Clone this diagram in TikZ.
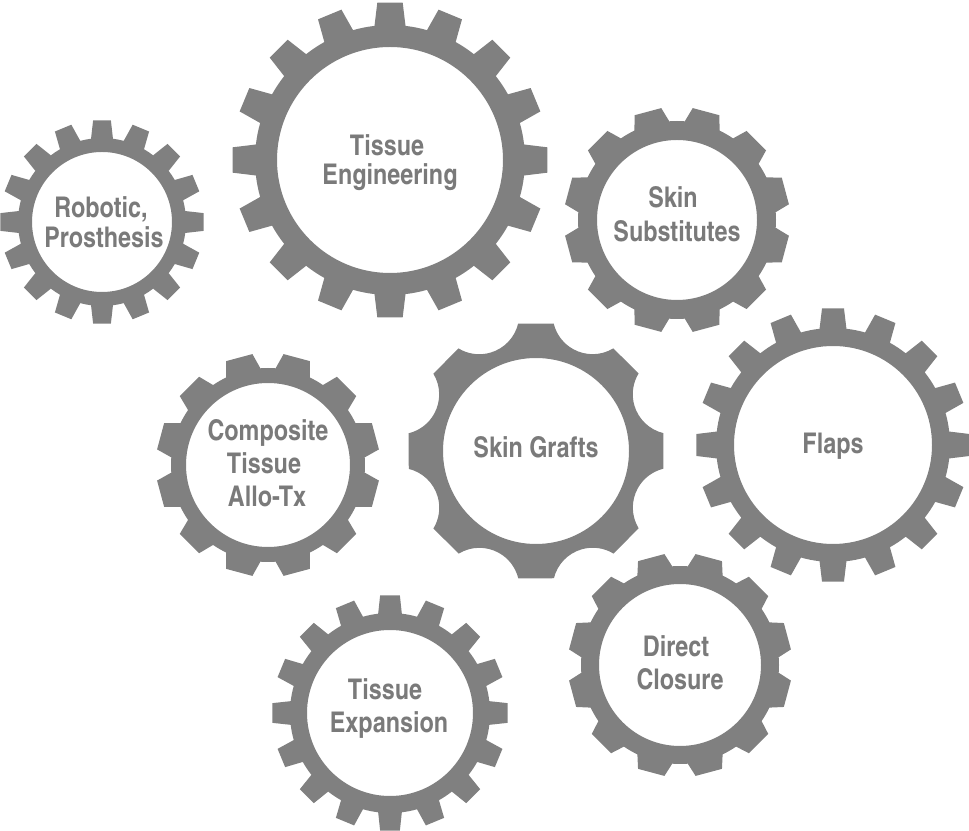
\documentclass[tikz,border=0pt]{standalone}
\usepackage{fontspec}
\newfontfamily\gearfont{texgyreheroscn-bold.otf}
\definecolor{gearcol}{RGB}{128,128,128}
\definecolor{labelcol}{RGB}{122,122,122}
\tikzset{lbl/.style={font=\gearfont\fontsize{28.5}{32}\selectfont, text=labelcol, inner sep=0pt, anchor=base}}
% cx cy (image px, y down), teeth, phase, tip r, root r, inner r, tip half-angle, base half-angle
\newcommand\mygear[9]{%
\begin{scope}[shift={(#1,{830-#2})}]
\fill[gearcol,even odd rule] ({#4-#9}:#6)
\foreach \k in {1,...,#3}{ -- ({#4+(\k-1)*360/#3-#8}:#5) -- ({#4+(\k-1)*360/#3+#8}:#5) -- ({#4+(\k-1)*360/#3+#9}:#6) arc[start angle={#4+(\k-1)*360/#3+#9}, end angle={#4+\k*360/#3-#9}, radius=#6] } -- cycle (0,0) circle[radius=#7];
\end{scope}}
\begin{document}
\begin{tikzpicture}[x=1pt,y=1pt]
\useasboundingbox (0,0) rectangle (969,830);
\fill[white] (0,0) rectangle (969,830);
% regular gears
\mygear{102}{222}{16}{0}{102}{84}{70}{5}{7.5}
\mygear{390}{160}{16}{0}{158}{135}{113}{4.6}{6.6}
\mygear{677}{220}{12}{15}{113}{99}{80}{7}{10.5}
\mygear{268}{465}{12}{15}{112}{97}{82}{7}{10.5}
\mygear{833}{445}{16}{0}{137}{117}{99}{4.6}{6.6}
\mygear{390}{713}{16}{0}{118}{100}{83}{4.8}{6.8}
\mygear{680}{665}{12}{15}{112}{99}{81}{7}{10.5}
% skin grafts gear: 8 teeth with concave gaps
\begin{scope}[shift={(536,{830-451})}]
\fill[gearcol,even odd rule] (8:128.5)
\foreach \k in {0,...,7}{ arc[start angle={\k*45+22.5+233.75}, end angle={\k*45+22.5+126.25}, radius=40] -- ({\k*45+53}:128.5) } -- cycle (0,0) circle[radius=93];
\end{scope}
% labels
\node[lbl] (rob1) at (101,{830-218}) {Robotic,};
\node[lbl] (rob2) at (104,{830-248}) {Prosthesis};
\node[lbl] (te1) at (387,{830-156}) {Tissue};
\node[lbl] (te2) at (390,{830-185}) {Engineering};
\node[lbl] (ss1) at (673,{830-208}) {Skin};
\node[lbl] (ss2) at (677,{830-242}) {Substitutes};
\node[lbl] (ct1) at (268,{830-441}) {Composite};
\node[lbl] (ct2) at (264,{830-474}) {Tissue};
\node[lbl] (ct3) at (267,{830-507}) {Allo-Tx};
\node[lbl] (sg) at (536,{830-458}) {Skin Grafts};
\node[lbl] (fl) at (833,{830-454}) {Flaps};
\node[lbl] (tx1) at (385,{830-700}) {Tissue};
\node[lbl] (tx2) at (389,{830-733}) {Expansion};
\node[lbl] (dc1) at (676,{830-657}) {Direct};
\node[lbl] (dc2) at (680,{830-690}) {Closure};
\end{tikzpicture}
\end{document}
